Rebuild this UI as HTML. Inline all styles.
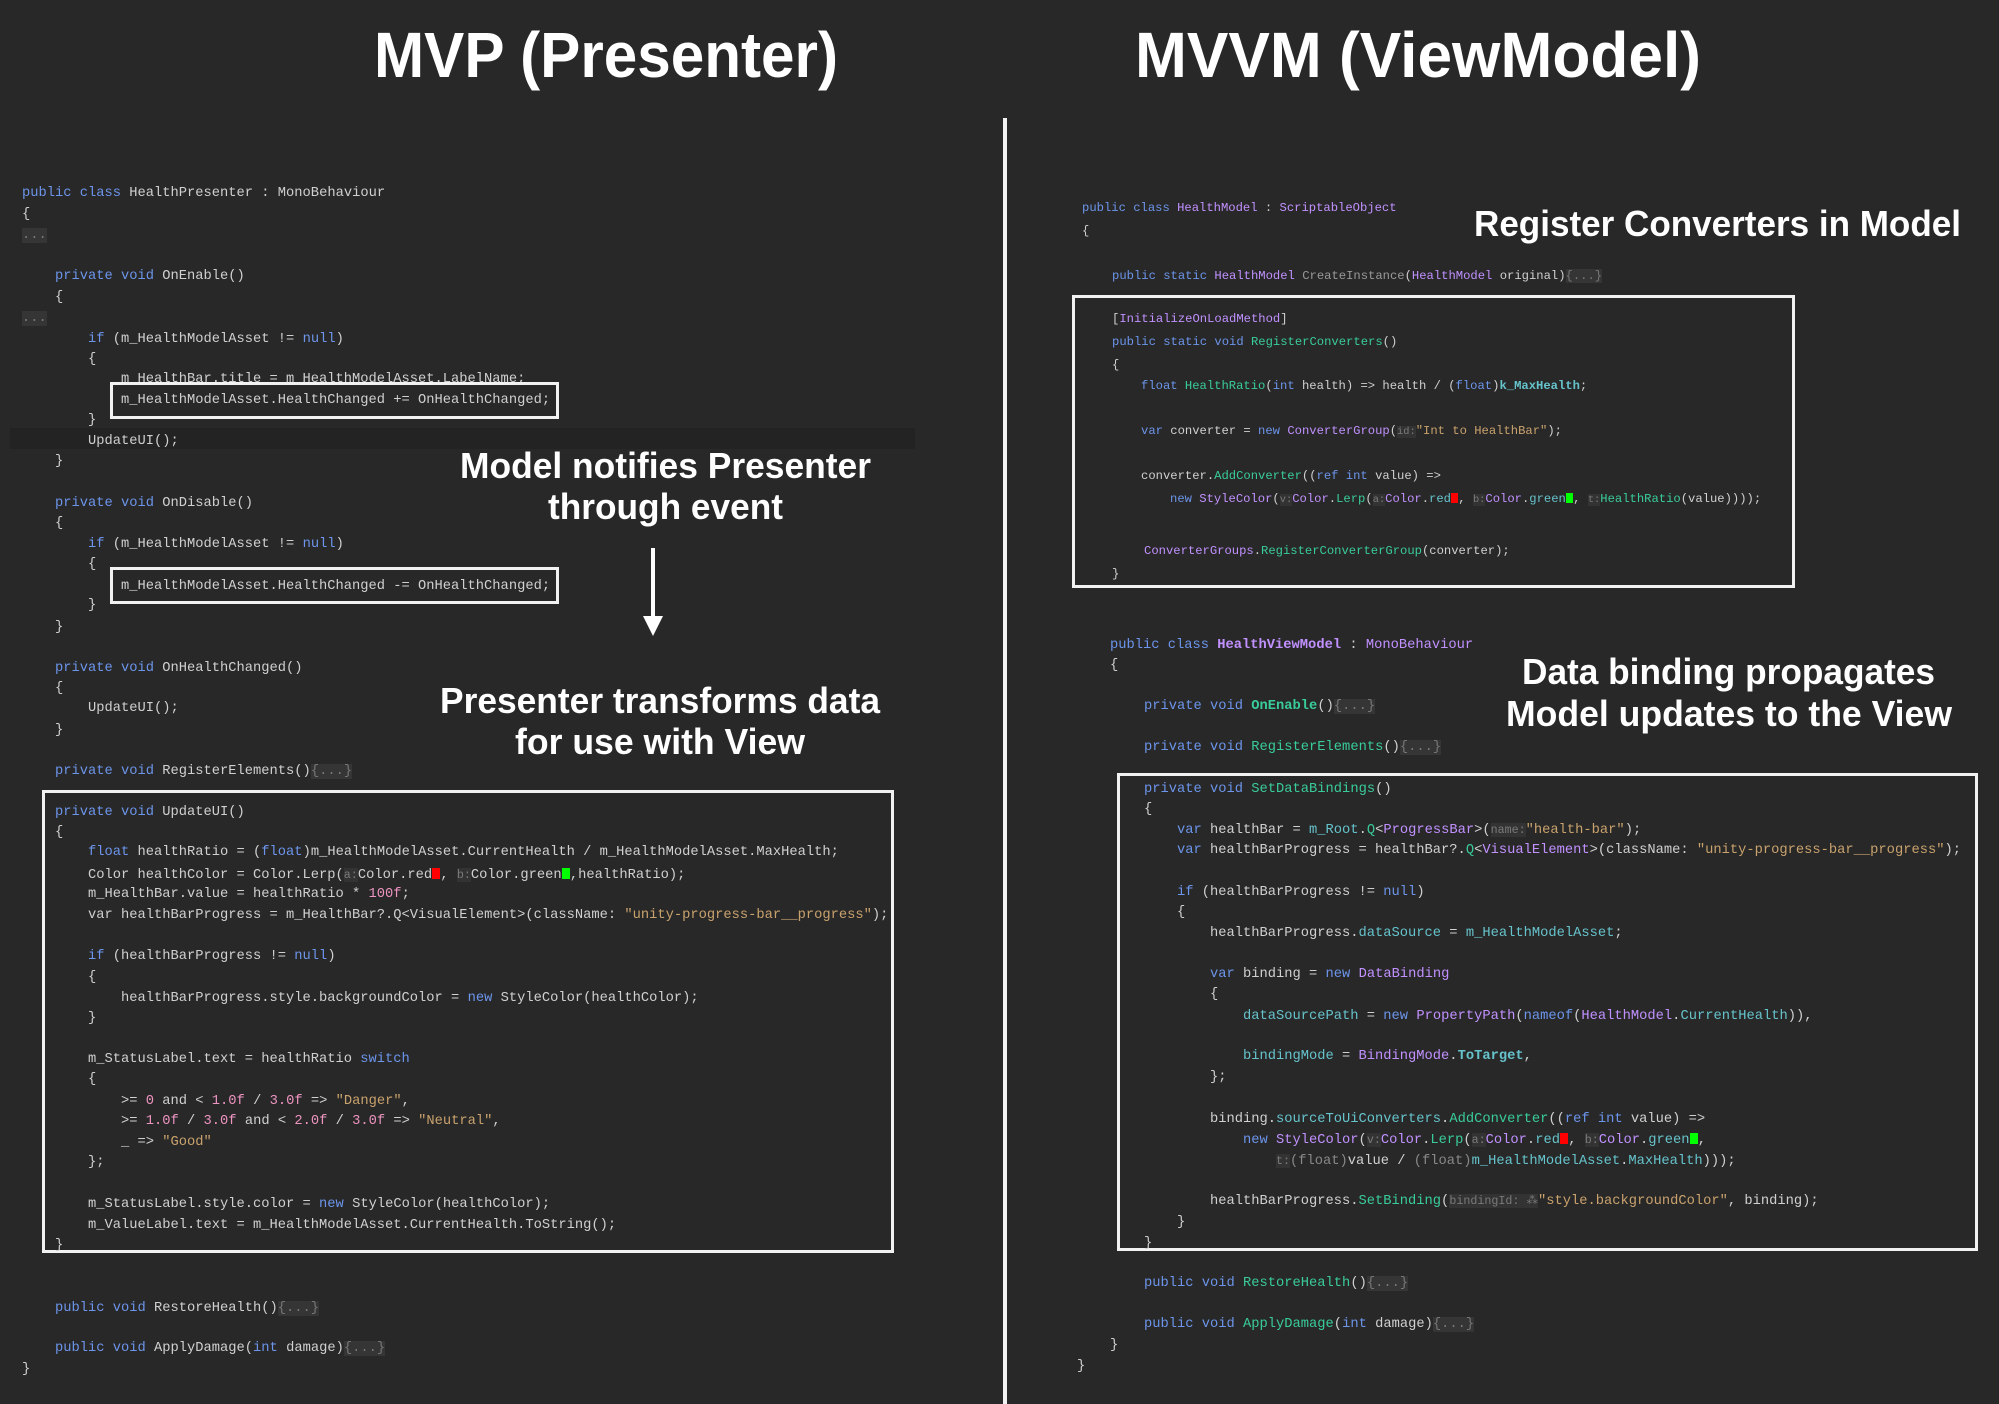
<!DOCTYPE html>
<html><head><meta charset="utf-8">
<style>
html,body{margin:0;padding:0;}
body{width:1999px;height:1404px;background:#282828;position:relative;overflow:hidden;font-family:"Liberation Mono",monospace;}
.l{position:absolute;white-space:pre;font-size:13.75px;line-height:20px;color:#d0d0d0;margin-top:3px;}
.sm{font-size:12.2px;}
.k{color:#6c95eb}.s{color:#c9a26d}.n{color:#ed94c0}.m{color:#39cc9b}.t{color:#c191ff}.f{color:#66c3cc}
.h{color:#7a7a7a;background:#333;font-size:0.85em;}
.fd{color:#777;background:#353535;}
.r{display:inline-block;width:0.6em;height:0.8em;background:#f00;vertical-align:-1px;}
.g{display:inline-block;width:0.6em;height:0.8em;background:#0f0;vertical-align:-1px;}
.b{font-weight:bold}
.box{position:absolute;border:3px solid #f2f2f2;box-sizing:border-box;}
</style></head><body>
<div style="position:absolute;left:10px;top:428px;width:905px;height:21px;background:#232323"></div>
<div style="position:absolute;left:1003px;top:118px;width:4px;height:1286px;background:#f2f2f2"></div>

<!-- LEFT -->
<div class="l" style="left:22px;top:181px"><span class="k">public class</span> HealthPresenter : MonoBehaviour</div>
<div class="l" style="left:22px;top:202px">{</div>
<div class="l" style="left:22px;top:223px"><span class="fd">...</span></div>
<div class="l" style="left:55px;top:264px"><span class="k">private void</span> OnEnable()</div>
<div class="l" style="left:55px;top:285px">{</div>
<div class="l" style="left:22px;top:306px"><span class="fd">...</span></div>
<div class="l" style="left:88px;top:327px"><span class="k">if</span> (m_HealthModelAsset != <span class="k">null</span>)</div>
<div class="l" style="left:88px;top:347px">{</div>
<div class="l" style="left:121px;top:367px">m_HealthBar.title = m_HealthModelAsset.LabelName;</div>
<div class="l" style="left:121px;top:388px">m_HealthModelAsset.HealthChanged += OnHealthChanged;</div>
<div class="box" style="left:110px;top:382px;width:449px;height:37px"></div>
<div class="l" style="left:88px;top:408px">}</div>
<div class="l" style="left:88px;top:429px">UpdateUI();</div>
<div class="l" style="left:55px;top:449px">}</div>
<div class="l" style="left:55px;top:491px"><span class="k">private void</span> OnDisable()</div>
<div class="l" style="left:55px;top:511px">{</div>
<div class="l" style="left:88px;top:532px"><span class="k">if</span> (m_HealthModelAsset != <span class="k">null</span>)</div>
<div class="l" style="left:88px;top:552px">{</div>
<div class="l" style="left:121px;top:574px">m_HealthModelAsset.HealthChanged -= OnHealthChanged;</div>
<div class="box" style="left:110px;top:567px;width:449px;height:37px"></div>
<div class="l" style="left:88px;top:593px">}</div>
<div class="l" style="left:55px;top:615px">}</div>
<div class="l" style="left:55px;top:656px"><span class="k">private void</span> OnHealthChanged()</div>
<div class="l" style="left:55px;top:676px">{</div>
<div class="l" style="left:88px;top:696px">UpdateUI();</div>
<div class="l" style="left:55px;top:718px">}</div>
<div class="l" style="left:55px;top:759px"><span class="k">private void</span> RegisterElements()<span class="fd">{...}</span></div>
<div class="box" style="left:42px;top:790px;width:852px;height:463px"></div>
<div class="l" style="left:55px;top:800px"><span class="k">private void</span> UpdateUI()</div>
<div class="l" style="left:55px;top:820px">{</div>
<div class="l" style="left:88px;top:840px"><span class="k">float</span> healthRatio = (<span class="k">float</span>)m_HealthModelAsset.CurrentHealth / m_HealthModelAsset.MaxHealth;</div>
<div class="l" style="left:88px;top:862px">Color healthColor = Color.Lerp(<span class="h">a:</span>Color.red<span class="r"></span>, <span class="h">b:</span>Color.green<span class="g"></span>,healthRatio);</div>
<div class="l" style="left:88px;top:882px">m_HealthBar.value = healthRatio * <span class="n">100f</span>;</div>
<div class="l" style="left:88px;top:903px">var healthBarProgress = m_HealthBar?.Q&lt;VisualElement&gt;(className: <span class="s">"unity-progress-bar__progress"</span>);</div>
<div class="l" style="left:88px;top:944px"><span class="k">if</span> (healthBarProgress != <span class="k">null</span>)</div>
<div class="l" style="left:88px;top:965px">{</div>
<div class="l" style="left:121px;top:986px">healthBarProgress.style.backgroundColor = <span class="k">new</span> StyleColor(healthColor);</div>
<div class="l" style="left:88px;top:1006px">}</div>
<div class="l" style="left:88px;top:1047px">m_StatusLabel.text = healthRatio <span class="k">switch</span></div>
<div class="l" style="left:88px;top:1067px">{</div>
<div class="l" style="left:121px;top:1089px">&gt;= <span class="n">0</span> and &lt; <span class="n">1.0f</span> / <span class="n">3.0f</span> =&gt; <span class="s">"Danger"</span>,</div>
<div class="l" style="left:121px;top:1109px">&gt;= <span class="n">1.0f</span> / <span class="n">3.0f</span> and &lt; <span class="n">2.0f</span> / <span class="n">3.0f</span> =&gt; <span class="s">"Neutral"</span>,</div>
<div class="l" style="left:121px;top:1130px">_ =&gt; <span class="s">"Good"</span></div>
<div class="l" style="left:88px;top:1150px">};</div>
<div class="l" style="left:88px;top:1192px">m_StatusLabel.style.color = <span class="k">new</span> StyleColor(healthColor);</div>
<div class="l" style="left:88px;top:1213px">m_ValueLabel.text = m_HealthModelAsset.CurrentHealth.ToString();</div>
<div class="l" style="left:55px;top:1233px">}</div>
<div class="l" style="left:55px;top:1296px"><span class="k">public void</span> RestoreHealth()<span class="fd">{...}</span></div>
<div class="l" style="left:55px;top:1336px"><span class="k">public void</span> ApplyDamage(<span class="k">int</span> damage)<span class="fd">{...}</span></div>
<div class="l" style="left:22px;top:1357px">}</div>

<!-- RIGHT TOP -->
<div class="l sm" style="left:1082px;top:195px"><span class="k">public class</span> <span class="t">HealthModel</span> : <span class="t">ScriptableObject</span></div>
<div class="l sm" style="left:1082px;top:218px">{</div>
<div class="l sm" style="left:1112px;top:263px"><span class="k">public static</span> <span class="t">HealthModel</span> <span style="color:#999">CreateInstance</span>(<span class="t">HealthModel</span> original)<span class="fd">{...}</span></div>
<div class="box" style="left:1072px;top:295px;width:723px;height:293px"></div>
<div class="l sm" style="left:1112px;top:306px">[<span class="t">InitializeOnLoadMethod</span>]</div>
<div class="l sm" style="left:1112px;top:329px"><span class="k">public static void</span> <span class="m">RegisterConverters</span>()</div>
<div class="l sm" style="left:1112px;top:352px">{</div>
<div class="l sm" style="left:1141px;top:373px"><span class="k">float</span> <span class="m">HealthRatio</span>(<span class="k">int</span> health) =&gt; health / (<span class="k">float</span>)<span class="f b">k_MaxHealth</span>;</div>
<div class="l sm" style="left:1141px;top:418px"><span class="k">var</span> converter = <span class="k">new</span> <span class="t">ConverterGroup</span>(<span class="h">id:</span><span class="s">"Int to HealthBar"</span>);</div>
<div class="l sm" style="left:1141px;top:463px">converter.<span class="m">AddConverter</span>((<span class="k">ref int</span> value) =&gt;</div>
<div class="l sm" style="left:1170px;top:486px"><span class="k">new</span> <span class="t">StyleColor</span>(<span class="h">v:</span><span class="t">Color</span>.<span class="m">Lerp</span>(<span class="h">a:</span><span class="t">Color</span>.<span class="f">red</span><span class="r"></span>, <span class="h">b:</span><span class="t">Color</span>.<span class="f">green</span><span class="g"></span>, <span class="h">t:</span><span class="m">HealthRatio</span>(value))));</div>
<div class="l sm" style="left:1144px;top:538px"><span class="t">ConverterGroups</span>.<span class="m">RegisterConverterGroup</span>(converter);</div>
<div class="l sm" style="left:1112px;top:561px">}</div>

<!-- RIGHT BOTTOM -->
<div class="l" style="left:1110px;top:633px"><span class="k">public class</span> <span class="t b">HealthViewModel</span> : <span class="t">MonoBehaviour</span></div>
<div class="l" style="left:1110px;top:653px">{</div>
<div class="l" style="left:1144px;top:694px"><span class="k">private void</span> <span class="m b">OnEnable</span>()<span class="fd">{...}</span></div>
<div class="l" style="left:1144px;top:735px"><span class="k">private void</span> <span class="m">RegisterElements</span>()<span class="fd">{...}</span></div>
<div class="box" style="left:1117px;top:773px;width:861px;height:478px"></div>
<div class="l" style="left:1144px;top:777px"><span class="k">private void</span> <span class="m">SetDataBindings</span>()</div>
<div class="l" style="left:1144px;top:797px">{</div>
<div class="l" style="left:1177px;top:817px"><span class="k">var</span> healthBar = <span class="f">m_Root</span>.<span class="m">Q</span>&lt;<span class="t">ProgressBar</span>&gt;(<span class="h">name:</span><span class="s">"health-bar"</span>);</div>
<div class="l" style="left:1177px;top:838px"><span class="k">var</span> healthBarProgress = healthBar?.<span class="m">Q</span>&lt;<span class="t">VisualElement</span>&gt;(className: <span class="s">"unity-progress-bar__progress"</span>);</div>
<div class="l" style="left:1177px;top:880px"><span class="k">if</span> (healthBarProgress != <span class="k">null</span>)</div>
<div class="l" style="left:1177px;top:900px">{</div>
<div class="l" style="left:1210px;top:921px">healthBarProgress.<span class="f">dataSource</span> = <span class="f">m_HealthModelAsset</span>;</div>
<div class="l" style="left:1210px;top:962px"><span class="k">var</span> binding = <span class="k">new</span> <span class="t">DataBinding</span></div>
<div class="l" style="left:1210px;top:982px">{</div>
<div class="l" style="left:1243px;top:1004px"><span class="f">dataSourcePath</span> = <span class="k">new</span> <span class="t">PropertyPath</span>(<span class="k">nameof</span>(<span class="t">HealthModel</span>.<span class="f">CurrentHealth</span>)),</div>
<div class="l" style="left:1243px;top:1044px"><span class="f">bindingMode</span> = <span class="t">BindingMode</span>.<span class="f b">ToTarget</span>,</div>
<div class="l" style="left:1210px;top:1065px">};</div>
<div class="l" style="left:1210px;top:1107px">binding.<span class="f">sourceToUiConverters</span>.<span class="m">AddConverter</span>((<span class="k">ref int</span> value) =&gt;</div>
<div class="l" style="left:1243px;top:1127px"><span class="k">new</span> <span class="t">StyleColor</span>(<span class="h">v:</span><span class="t">Color</span>.<span class="m">Lerp</span>(<span class="h">a:</span><span class="t">Color</span>.<span class="f">red</span><span class="r"></span>, <span class="h">b:</span><span class="t">Color</span>.<span class="f">green</span><span class="g"></span>,</div>
<div class="l" style="left:1276px;top:1148px"><span class="h">t:</span><span style="color:#888">(float)</span>value / <span style="color:#888">(float)</span><span class="f">m_HealthModelAsset</span>.<span class="f">MaxHealth</span>)));</div>
<div class="l" style="left:1210px;top:1188px">healthBarProgress.<span class="m">SetBinding</span>(<span class="h">bindingId: ⁂</span><span class="s">"style.backgroundColor"</span>, binding);</div>
<div class="l" style="left:1177px;top:1210px">}</div>
<div class="l" style="left:1144px;top:1231px">}</div>
<div class="l" style="left:1144px;top:1271px"><span class="k">public void</span> <span class="m">RestoreHealth</span>()<span class="fd">{...}</span></div>
<div class="l" style="left:1144px;top:1312px"><span class="k">public void</span> <span class="m">ApplyDamage</span>(<span class="k">int</span> damage)<span class="fd">{...}</span></div>
<div class="l" style="left:1110px;top:1333px">}</div>
<div class="l" style="left:1077px;top:1354px">}</div>

<svg width="1999" height="1404" style="position:absolute;left:0;top:0" font-family="Liberation Sans, sans-serif" font-weight="bold" fill="#fff">
<text x="374" y="77" font-size="64" textLength="464" lengthAdjust="spacingAndGlyphs">MVP (Presenter)</text>
<text x="1135" y="77" font-size="64" textLength="566" lengthAdjust="spacingAndGlyphs">MVVM (ViewModel)</text>
<text x="460" y="478" font-size="36" textLength="411" lengthAdjust="spacingAndGlyphs">Model notifies Presenter</text>
<text x="548" y="519" font-size="36" textLength="235" lengthAdjust="spacingAndGlyphs">through event</text>
<rect x="651" y="548" width="4" height="72" fill="#fff"/>
<polygon points="643,616 663,616 653,636" fill="#fff"/>
<text x="440" y="713" font-size="36" textLength="440" lengthAdjust="spacingAndGlyphs">Presenter transforms data</text>
<text x="515" y="754" font-size="36" textLength="290" lengthAdjust="spacingAndGlyphs">for use with View</text>
<text x="1474" y="236" font-size="36" textLength="487" lengthAdjust="spacingAndGlyphs">Register Converters in Model</text>
<text x="1522" y="684" font-size="36" textLength="413" lengthAdjust="spacingAndGlyphs">Data binding propagates</text>
<text x="1506" y="726" font-size="36" textLength="446" lengthAdjust="spacingAndGlyphs">Model updates to the View</text>
</svg>
</body></html>
